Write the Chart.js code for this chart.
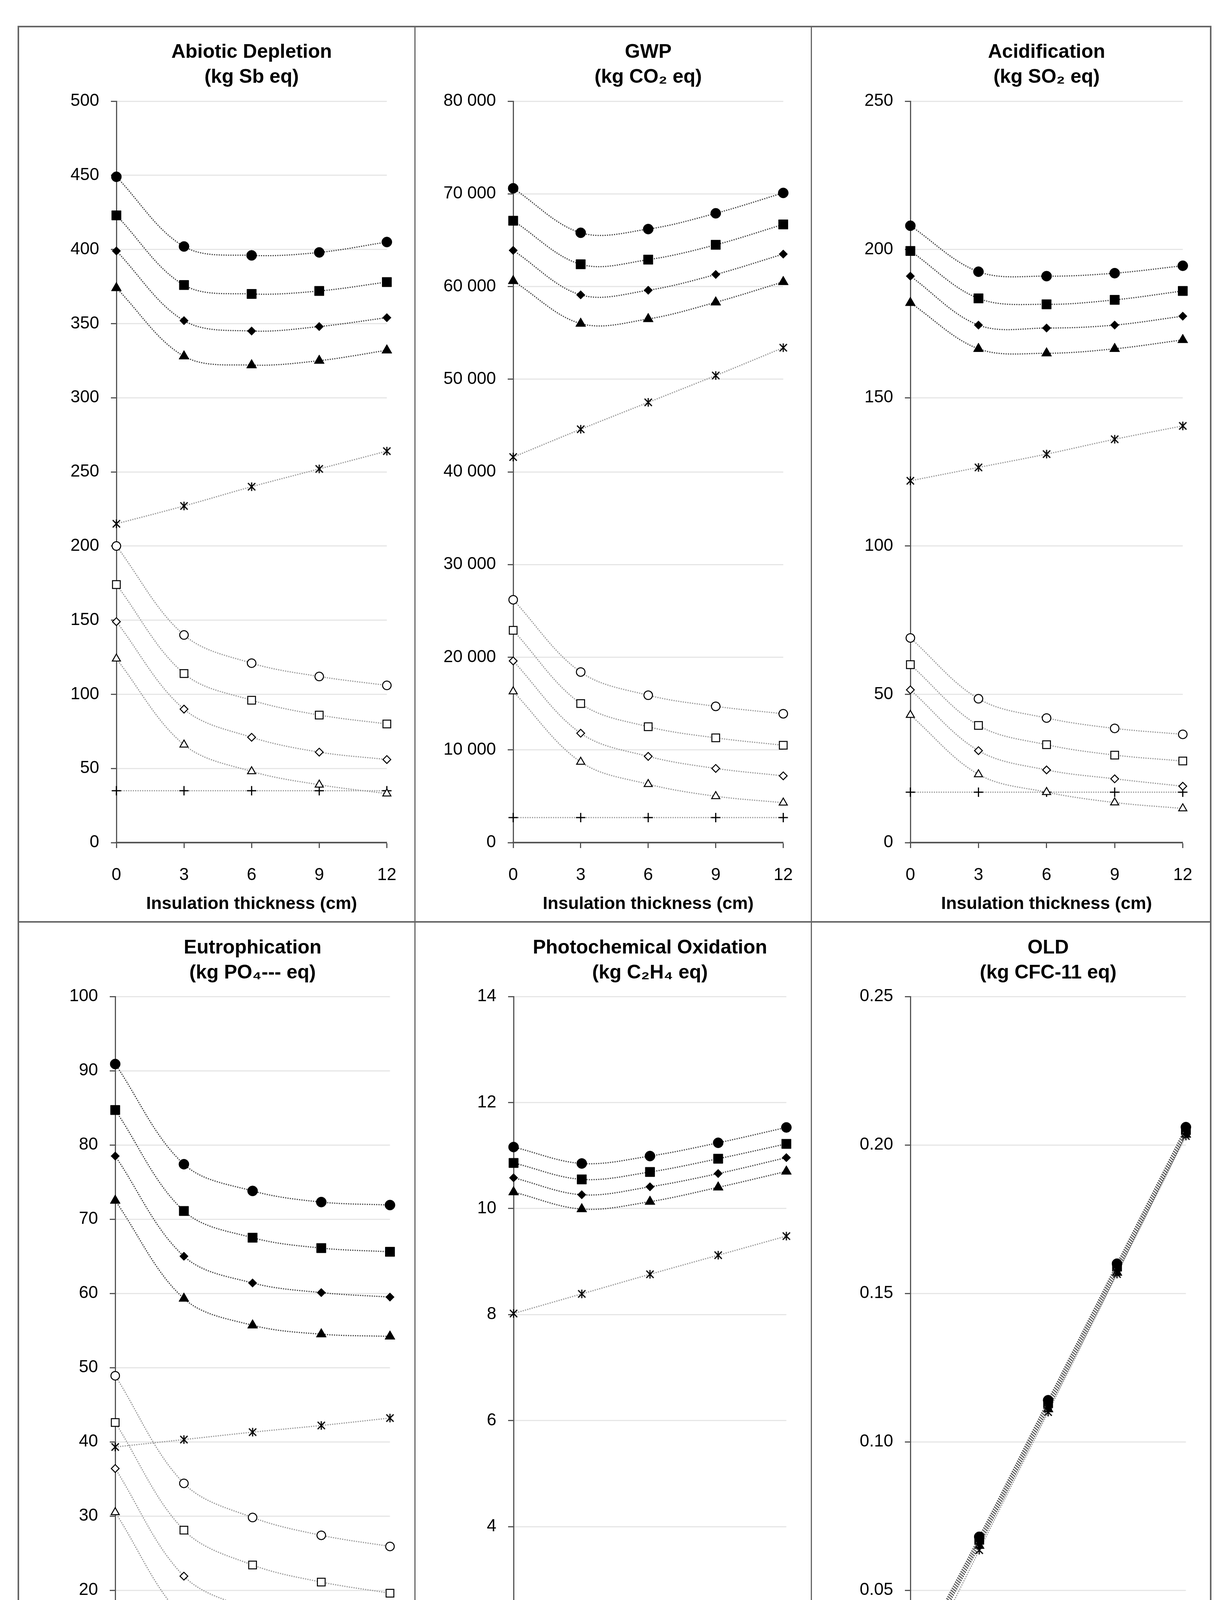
<!DOCTYPE html>
<html>
<head>
<meta charset="utf-8">
<script src="https://cdn.jsdelivr.net/npm/chart.js@4.4.1/dist/chart.umd.min.js"></script>
<style>
  body { margin: 0; background: #fff; font-family: "Liberation Sans", Arial, sans-serif; }
  #page { position: relative; width: 3152px; height: 5067px; }
  .line { position: absolute; background: #666; }
  canvas.panel { position: absolute; }
  .lg { position: absolute; font-size: 52px; color: #000; white-space: nowrap; line-height: 66px; }
  .lg b { font-weight: bold; }
  .mk { position: absolute; }
</style>
</head>
<body>
<div id="page"></div>
<script>
// insulation thickness (cm)
const thickness = [0, 3, 6, 9, 12];

const seriesNames = [
  "Total LC (1.2 ac/h)", "Total LC (0.9 ac/h)", "Total LC (0.6 ac/h)", "Total LC (0.3 ac/h)",
  "Operational (1.2 ac/h)", "Operational (0.9 ac/h)", "Operational (0.6 ac/h)", "Operational (0.3 ac/h)",
  "Construction", "Maintenance"
];

// one row per series, in the order of seriesNames
const abiotic = [
  [449, 402, 396, 398, 405],
  [423, 376, 370, 372, 378],
  [399, 352, 345, 348, 354],
  [374, 328, 322, 325, 332],
  [200, 140, 121, 112, 106],
  [174, 114, 96, 86, 80],
  [149, 90, 71, 61, 56],
  [124, 66, 48, 39, 33],
  [215, 227, 240, 252, 264],
  [35, 35, 35, 35, 35]
];
const gwp = [
  [70600, 65800, 66200, 67900, 70100],
  [67100, 62400, 62900, 64500, 66700],
  [63900, 59100, 59600, 61300, 63500],
  [60600, 56000, 56500, 58300, 60500],
  [26200, 18400, 15900, 14700, 13900],
  [22900, 15000, 12500, 11300, 10500],
  [19600, 11800, 9300, 8000, 7200],
  [16300, 8700, 6300, 5000, 4300],
  [41600, 44600, 47500, 50400, 53400],
  [2700, 2700, 2700, 2700, 2700]
];
const acidification = [
  [208, 192.5, 191, 192, 194.5],
  [199.5, 183.5, 181.5, 183, 186],
  [191, 174.5, 173.5, 174.5, 177.5],
  [182, 166.5, 165, 166.5, 169.5],
  [69, 48.5, 42, 38.5, 36.5],
  [60, 39.5, 33, 29.5, 27.5],
  [51.5, 31, 24.5, 21.5, 19],
  [43, 23, 17, 13.5, 11.5],
  [122, 126.5, 131, 136, 140.5],
  [17, 17, 17, 17, 17]
];
const eutrophication = [
  [90.9, 77.4, 73.8, 72.3, 71.9],
  [84.7, 71.1, 67.5, 66.1, 65.6],
  [78.5, 65.0, 61.4, 60.1, 59.5],
  [72.5, 59.3, 55.7, 54.5, 54.2],
  [48.9, 34.4, 29.8, 27.4, 25.9],
  [42.6, 28.1, 23.4, 21.1, 19.6],
  [36.4, 21.9, 17.4, 15.0, 13.6],
  [30.5, 16.2, 11.7, 9.5, 8.3],
  [39.3, 40.3, 41.3, 42.2, 43.2],
  [2.7, 2.7, 2.7, 2.7, 2.7]
];
const photochemical = [
  [11.16, 10.85, 10.99, 11.24, 11.53],
  [10.86, 10.55, 10.69, 10.94, 11.22],
  [10.58, 10.26, 10.41, 10.66, 10.96],
  [10.31, 9.99, 10.13, 10.40, 10.70],
  [2.27, 1.60, 1.39, 1.27, 1.20],
  [1.99, 1.31, 1.09, 0.98, 0.92],
  [1.70, 1.03, 0.81, 0.70, 0.64],
  [1.41, 0.72, 0.53, 0.42, 0.37],
  [8.02, 8.39, 8.76, 9.12, 9.48],
  [0.83, 0.83, 0.83, 0.83, 0.83]
];
const ozoneDepletion = [
  [0.024, 0.068, 0.114, 0.160, 0.206],
  [0.023, 0.067, 0.113, 0.159, 0.205],
  [0.022, 0.066, 0.112, 0.158, 0.204],
  [0.021, 0.065, 0.111, 0.157, 0.2035],
  [0.0063, 0.0043, 0.0038, 0.0033, 0.0032],
  [0.0055, 0.0036, 0.0031, 0.0028, 0.0026],
  [0.0047, 0.0030, 0.0025, 0.0022, 0.0020],
  [0.0040, 0.0024, 0.0019, 0.0016, 0.0015],
  [0.017, 0.0635, 0.110, 0.1565, 0.203],
  [0.0005, 0.0005, 0.0005, 0.0005, 0.0005]
];

const panelTitles = [
  ["Abiotic Depletion", "(kg Sb eq)"],
  ["GWP", "(kg CO\u2082 eq)"],
  ["Acidification", "(kg SO\u2082 eq)"],
  ["Eutrophication", "(kg PO\u2084--- eq)"],
  ["Photochemical Oxidation", "(kg C\u2082H\u2084 eq)"],
  ["OLD", "(kg CFC-11 eq)"]
];
const panelData = [abiotic, gwp, acidification, eutrophication, photochemical, ozoneDepletion];
const yMax = [500, 80000, 250, 100, 14, 0.25];
const yStep = [50, 10000, 50, 10, 2, 0.05];
const xTitles = ["Insulation thickness (cm)", "Insulation thickness  (cm)"];

// ---- layout (page pixels) ----
const FONT = "'Liberation Sans', Arial, sans-serif";
Chart.defaults.font.family = FONT;
Chart.defaults.color = "#000";

const page = document.getElementById("page");
function line(x, y, w, h) {
  const d = document.createElement("div");
  d.className = "line";
  d.style.cssText = `left:${x}px;top:${y}px;width:${w}px;height:${h}px`;
  page.appendChild(d);
}
line(45, 66, 3057, 4);      // top
line(45, 4654, 3057, 5);    // bottom
line(45, 66, 4, 4593);      // left
line(3098, 66, 4, 4593);    // right
line(1061, 66, 3, 4590);
line(2076, 66, 3, 4590);
line(45, 2358, 3057, 4);

// canvas left/width, plot-area left/right, per panel
const boxes = [
  { x: 50, w: 1008, pl: 298, pr: 1007 },
  { x: 1066, w: 1007, pl: 1314, pr: 2024 },
  { x: 2081, w: 1015, pl: 2331, pr: 3044 },
  { x: 50, w: 1008, pl: 295, pr: 1007 },
  { x: 1066, w: 1007, pl: 1315, pr: 2032 },
  { x: 2081, w: 1015, pl: 2331, pr: 3044 }
];
const rows = [
  { top: 70, titleTop: 32, titleBottom: 29, tickPad: 43, xTitlePad: 15 },
  { top: 2364, titleTop: 31, titleBottom: 28, tickPad: 35, xTitlePad: 24 }
];
const CANVAS_H = 2287;

// asterisk marker (x with a vertical bar)
function asterisk(size, lw) {
  const c = document.createElement("canvas");
  c.width = size; c.height = size;
  const g = c.getContext("2d");
  g.strokeStyle = "#000"; g.lineWidth = lw; g.lineCap = "butt";
  const m = size / 2, r = size / 2 - 2;
  g.beginPath();
  g.moveTo(m - r * 0.85, m - r * 0.85); g.lineTo(m + r * 0.85, m + r * 0.85);
  g.moveTo(m + r * 0.85, m - r * 0.85); g.lineTo(m - r * 0.85, m + r * 0.85);
  g.moveTo(m, m - r); g.lineTo(m, m + r);
  g.stroke();
  return c;
}

const markers = [
  { style: "circle", r: 13, fill: "#000", line: "#444" },
  { style: "rect", r: 17, fill: "#000", line: "#444" },
  { style: "rectRot", r: 11, fill: "#000", line: "#444" },
  { style: "triangle", r: 15, fill: "#000", line: "#444" },
  { style: "circle", r: 11, fill: "#fff", line: "#999" },
  { style: "rect", r: 14, fill: "#fff", line: "#999" },
  { style: "rectRot", r: 10, fill: "#fff", line: "#999" },
  { style: "triangle", r: 12, fill: "#fff", line: "#999" },
  { style: asterisk(26, 3), r: 13, fill: "#000", line: "#999" },
  { style: "cross", r: 12, fill: "#000", line: "#999" }
];

function fmtTick(i, v) {
  if (i === 1) return String(v).replace(/\B(?=(\d{3})+(?!\d))/g, " ");
  if (i === 5) return v.toFixed(2);
  return String(Math.round(v * 100) / 100);
}

panelData.forEach((values, i) => {
  const b = boxes[i];
  const row = rows[i < 3 ? 0 : 1];
  const cv = document.createElement("canvas");
  cv.className = "panel";
  cv.width = b.w; cv.height = CANVAS_H;
  cv.style.left = b.x + "px";
  cv.style.top = row.top + "px";
  page.appendChild(cv);

  const datasets = values.map((vals, s) => {
    const m = markers[s];
    return {
      label: seriesNames[s],
      data: thickness.map((t, k) => ({ x: t, y: vals[k] })),
      borderColor: m.line,
      borderWidth: 3,
      borderDash: [3, 3],
      tension: 0.35,
      clip: false,
      pointStyle: m.style,
      pointRadius: m.r,
      pointBackgroundColor: m.fill,
      pointBorderColor: "#000",
      pointBorderWidth: m.fill === "#fff" ? 2.5 : 1,
      fill: false
    };
  });
  datasets[9].pointBorderWidth = 3;

  new Chart(cv, {
    type: "line",
    data: { datasets },
    options: {
      responsive: false,
      animation: false,
      devicePixelRatio: 1,
      layout: { padding: { left: 0, right: b.x + b.w - b.pr, top: 0, bottom: 0 } },
      plugins: {
        legend: { display: false },
        tooltip: { enabled: false },
        title: {
          display: true,
          fullSize: false,
          text: panelTitles[i],
          font: { size: 50, weight: "bold", lineHeight: 1.28 },
          padding: { top: row.titleTop, bottom: row.titleBottom }
        }
      },
      scales: {
        x: {
          type: "linear",
          min: 0, max: 12,
          ticks: { stepSize: 3, font: { size: 44 }, padding: row.tickPad, maxRotation: 0 },
          grid: { drawOnChartArea: false, tickLength: 14, tickColor: "#555", tickWidth: 3 },
          border: { color: "#555", width: 4 },
          title: {
            display: true,
            text: xTitles[i < 3 ? 0 : 1],
            font: { size: 45, weight: "bold", lineHeight: 1.2 },
            padding: { top: 0, bottom: row.xTitlePad }
          },
          afterFit: (s) => { s.height = 200; }
        },
        y: {
          min: 0, max: yMax[i],
          ticks: { stepSize: yStep[i], font: { size: 44 }, padding: 30, callback: (v) => fmtTick(i, v) },
          grid: { color: "#e6e6e6", lineWidth: 3, tickLength: 14, tickColor: "#555", tickWidth: 3 },
          border: { color: "#555", width: 3 },
          afterFit: (s) => { s.width = b.pl - b.x; }
        }
      }
    }
  });
});

// ---- legend below the panels ----
function text(x, y, html) {
  const d = document.createElement("div");
  d.className = "lg";
  d.style.left = x + "px";
  d.style.top = (y - 33) + "px";
  d.innerHTML = html;
  page.appendChild(d);
}
function marker(cx, cy, s) {
  const m = markers[s];
  const c = document.createElement("canvas");
  c.className = "mk";
  c.width = 44; c.height = 44;
  c.style.left = (cx - 22) + "px";
  c.style.top = (cy - 22) + "px";
  page.appendChild(c);
  const g = c.getContext("2d");
  g.fillStyle = m.fill; g.strokeStyle = "#000";
  const lw = m.fill === "#fff" ? 2.5 : (s === 9 ? 3 : 1);
  Chart.helpers.drawPoint(g, { pointStyle: m.style, radius: m.r * 1.05, borderWidth: lw, rotation: 0 }, 22, 22);
}

const legendRowsY = [4750, 4838, 4925, 5012];
text(119, 4750, "<b>Total LC impact</b>");
text(119, 4816, "<b>(for ventilation level):</b>");
text(1420, 4750, "<b>Parcial LC impact</b>");
text(1420, 4816, "<b>(per process):</b>");
const legendCols = [
  { mx: 775, tx: 801, items: [0, 1, 2, 3] },
  { mx: 2012, tx: 2038, items: [4, 5, 6, 7] },
  { mx: 2716, tx: 2744, items: [8, 9] }
];
legendCols.forEach(col => {
  col.items.forEach((s, k) => {
    marker(col.mx, legendRowsY[k], s);
    text(col.tx, legendRowsY[k], seriesNames[s]);
  });
});
</script>
</body>
</html>
